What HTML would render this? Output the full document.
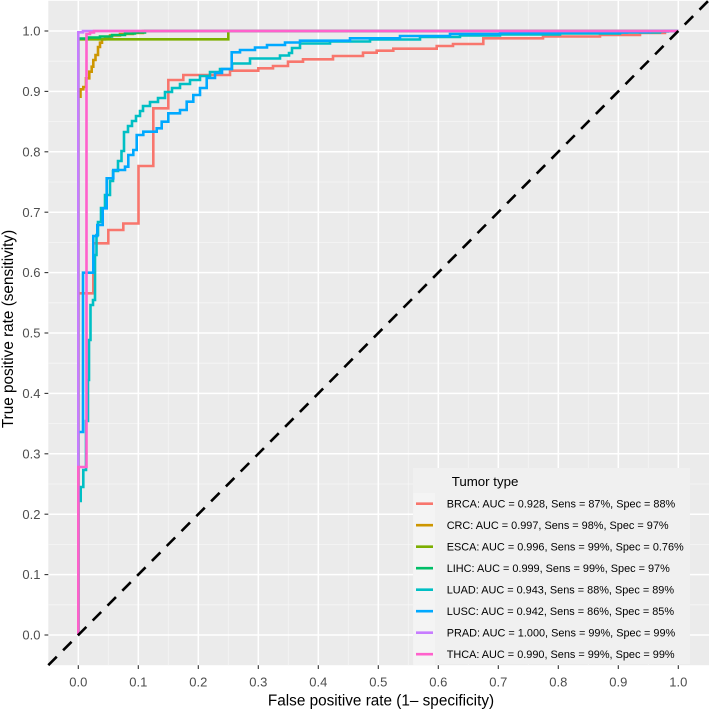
<!DOCTYPE html>
<html>
<head>
<meta charset="utf-8">
<style>
html,body{margin:0;padding:0;background:#fff;}
svg{display:block;}
text{font-family:"Liberation Sans",Arial,sans-serif;}
</style>
</head>
<body>
<svg width="709" height="710" viewBox="0 0 709 710" xmlns="http://www.w3.org/2000/svg">
<rect x="0" y="0" width="709" height="710" fill="#fff"/>
<!-- panel -->
<rect x="48.3" y="0.8" width="660.7" height="664.4" fill="#EBEBEB"/>
<!-- minor grid -->
<g stroke="#F6F6F6" stroke-width="0.8">
<line x1="108.3" y1="0.8" x2="108.3" y2="665.2"/>
<line x1="168.3" y1="0.8" x2="168.3" y2="665.2"/>
<line x1="228.3" y1="0.8" x2="228.3" y2="665.2"/>
<line x1="288.3" y1="0.8" x2="288.3" y2="665.2"/>
<line x1="348.3" y1="0.8" x2="348.3" y2="665.2"/>
<line x1="408.3" y1="0.8" x2="408.3" y2="665.2"/>
<line x1="468.3" y1="0.8" x2="468.3" y2="665.2"/>
<line x1="528.3" y1="0.8" x2="528.3" y2="665.2"/>
<line x1="588.3" y1="0.8" x2="588.3" y2="665.2"/>
<line x1="648.3" y1="0.8" x2="648.3" y2="665.2"/>
<line x1="48.3" y1="604.8" x2="709" y2="604.8"/>
<line x1="48.3" y1="544.4" x2="709" y2="544.4"/>
<line x1="48.3" y1="484.0" x2="709" y2="484.0"/>
<line x1="48.3" y1="423.6" x2="709" y2="423.6"/>
<line x1="48.3" y1="363.2" x2="709" y2="363.2"/>
<line x1="48.3" y1="302.8" x2="709" y2="302.8"/>
<line x1="48.3" y1="242.4" x2="709" y2="242.4"/>
<line x1="48.3" y1="182.0" x2="709" y2="182.0"/>
<line x1="48.3" y1="121.6" x2="709" y2="121.6"/>
<line x1="48.3" y1="61.2" x2="709" y2="61.2"/>
</g>
<!-- major grid -->
<g stroke="#FFFFFF" stroke-width="1.5">
<line x1="78.3" y1="0.8" x2="78.3" y2="665.2"/>
<line x1="138.3" y1="0.8" x2="138.3" y2="665.2"/>
<line x1="198.3" y1="0.8" x2="198.3" y2="665.2"/>
<line x1="258.3" y1="0.8" x2="258.3" y2="665.2"/>
<line x1="318.3" y1="0.8" x2="318.3" y2="665.2"/>
<line x1="378.3" y1="0.8" x2="378.3" y2="665.2"/>
<line x1="438.3" y1="0.8" x2="438.3" y2="665.2"/>
<line x1="498.3" y1="0.8" x2="498.3" y2="665.2"/>
<line x1="558.3" y1="0.8" x2="558.3" y2="665.2"/>
<line x1="618.3" y1="0.8" x2="618.3" y2="665.2"/>
<line x1="678.3" y1="0.8" x2="678.3" y2="665.2"/>
<line x1="48.3" y1="635" x2="709" y2="635"/>
<line x1="48.3" y1="574.6" x2="709" y2="574.6"/>
<line x1="48.3" y1="514.2" x2="709" y2="514.2"/>
<line x1="48.3" y1="453.8" x2="709" y2="453.8"/>
<line x1="48.3" y1="393.4" x2="709" y2="393.4"/>
<line x1="48.3" y1="333.0" x2="709" y2="333.0"/>
<line x1="48.3" y1="272.6" x2="709" y2="272.6"/>
<line x1="48.3" y1="212.2" x2="709" y2="212.2"/>
<line x1="48.3" y1="151.8" x2="709" y2="151.8"/>
<line x1="48.3" y1="91.4" x2="709" y2="91.4"/>
<line x1="48.3" y1="31.0" x2="709" y2="31.0"/>
</g>

<!-- curves -->
<g fill="none" stroke-width="2.6" stroke-linejoin="miter">
<!-- BRCA -->
<path stroke="#F8766D" d="M78.3 635 V293.3 H93.3 V243.3 H108.3 V230 H123.3 V223.5 H138.5 V166 H153.3 V108.3 H168.3 V80 H183.3 V75 H230 V70.7 H258.3 V68.3 H273 V66 H288 V61.7 H303 V59.3 H333 V56 H363 V52.7 H376.7 V50.7 H393.3 V48.7 H436.7 V46 H453 V44 H483.3 V38.3 H543 V36.5 H600 V35 H640 V33 H665 V31 H678.3"/>
<!-- CRC -->
<path stroke="#CD9600" d="M78.3 635 V96.7 H80.5 V89.3 H83.3 V87 H86 V78.3 H89.3 V71.7 H91.7 V66.7 H93.3 V60 H95.5 V55 H98 V47 H100 V42.7 H102 V39.3 H105 V37 H110 V35.5 H120 V34 H133 V33 H143 V31 H678.3"/>
<!-- ESCA -->
<path stroke="#7CAE00" d="M78.3 635 V39.3 H228.3 V31 H678.3"/>
<!-- LIHC -->
<path stroke="#00BE67" d="M78.3 635 V38.5 H88 V37.5 H100 V36.5 H112 V35 H125 V33.5 H135 V32.5 H145 V31 H678.3"/>
<!-- LUAD -->
<path stroke="#00BFC4" d="M78.3 635 V501 H80.7 V487 H83.3 V470 H86 V421 H88 V380 H89 V340 H90.5 V305 H93 V300 H95 V255 H96.5 V235 H98 V222 H101 V208 H105 V195 H110 V181 H113 V171 H118 V161 H121.5 V151 H124 V132 H128 V126 H132 V121 H136 V116 H140 V111 H143 V106 H150 V102 H158 V98 H165 V92 H172 V88 H180 V84 H190 V80 H200 V76 H210 V72 H220 V69 H232 V63.5 H250 V58.5 H280 V55.5 H289 V53 H292 V48 H300 V43.5 H330 V41.5 H370 V39.5 H420 V37 H460 V35.5 H500 V34.5 H560 V33.5 H620 V32.5 H660 V31.5 H668 V31 H678.3"/>
<!-- LUSC -->
<path stroke="#00A9FF" d="M78.3 635 V432 H83 V272.7 H93.3 V236 H97.3 V225 H102.7 V208.3 H106.7 V178.3 H113.3 V170 H125 V166.7 H128.3 V155 H133.3 V150 H136.7 V135 H143.3 V131.7 H156.7 V128.3 H161.7 V121.7 H168.3 V113.3 H180 V110 H186.7 V101.7 H193.3 V95 H200 V88 H206.7 V78 H215 V73 H222 V69 H231.7 V52.3 H240 V50 H255 V47.5 H267 V45 H285 V42.5 H300 V40.7 H350 V38.3 H400 V36 H450 V34 H500 V33 H560 V32.5 H627 V32 H650 V31 H678.3"/>
<!-- PRAD -->
<path stroke="#C77CFF" d="M78.3 635 V32.3 H83 V31 H678.3"/>
<!-- THCA -->
<path stroke="#FF61CC" d="M78.3 635 V467 H86.5 V34 H90 V32.5 H94 V31 H678.3"/>
</g>

<!-- diagonal -->
<line x1="48.3" y1="665.2" x2="708.3" y2="0.8" stroke="#000" stroke-width="2.6" stroke-dasharray="12 9"/>

<!-- legend -->
<rect x="413" y="468" width="277" height="196" fill="#F0F0F0"/>
<g fill="#F4F4F4">
<rect x="413.3" y="493" width="21.7" height="21.5"/>
<rect x="413.3" y="514.5" width="21.7" height="21.5"/>
<rect x="413.3" y="536" width="21.7" height="21.5"/>
<rect x="413.3" y="557.5" width="21.7" height="21.5"/>
<rect x="413.3" y="579" width="21.7" height="21.5"/>
<rect x="413.3" y="600.5" width="21.7" height="21.5"/>
<rect x="413.3" y="622" width="21.7" height="21.5"/>
<rect x="413.3" y="643.5" width="21.7" height="21.5"/>
</g>
<text x="451.7" y="485.8" font-size="13.3" fill="#000">Tumor type</text>
<g stroke-width="2.6">
<line x1="416" y1="503.7" x2="433" y2="503.7" stroke="#F8766D"/>
<line x1="416" y1="525.2" x2="433" y2="525.2" stroke="#CD9600"/>
<line x1="416" y1="546.7" x2="433" y2="546.7" stroke="#7CAE00"/>
<line x1="416" y1="568.2" x2="433" y2="568.2" stroke="#00BE67"/>
<line x1="416" y1="589.7" x2="433" y2="589.7" stroke="#00BFC4"/>
<line x1="416" y1="611.2" x2="433" y2="611.2" stroke="#00A9FF"/>
<line x1="416" y1="632.7" x2="433" y2="632.7" stroke="#C77CFF"/>
<line x1="416" y1="654.2" x2="433" y2="654.2" stroke="#FF61CC"/>
</g>
<g font-size="10.9" fill="#000">
<text x="446.7" y="507.6">BRCA: AUC = 0.928, Sens = 87%, Spec = 88%</text>
<text x="446.7" y="529.1">CRC: AUC = 0.997, Sens = 98%, Spec = 97%</text>
<text x="446.7" y="550.6">ESCA: AUC = 0.996, Sens = 99%, Spec = 0.76%</text>
<text x="446.7" y="572.1">LIHC: AUC = 0.999, Sens = 99%, Spec = 97%</text>
<text x="446.7" y="593.6">LUAD: AUC = 0.943, Sens = 88%, Spec = 89%</text>
<text x="446.7" y="615.1">LUSC: AUC = 0.942, Sens = 86%, Spec = 85%</text>
<text x="446.7" y="636.6">PRAD: AUC = 1.000, Sens = 99%, Spec = 99%</text>
<text x="446.7" y="658.1">THCA: AUC = 0.990, Sens = 99%, Spec = 99%</text>
</g>

<!-- axis ticks -->
<g stroke="#333" stroke-width="1.1">
<line x1="44.5" y1="635" x2="48.3" y2="635"/>
<line x1="44.5" y1="574.6" x2="48.3" y2="574.6"/>
<line x1="44.5" y1="514.2" x2="48.3" y2="514.2"/>
<line x1="44.5" y1="453.8" x2="48.3" y2="453.8"/>
<line x1="44.5" y1="393.4" x2="48.3" y2="393.4"/>
<line x1="44.5" y1="333.0" x2="48.3" y2="333.0"/>
<line x1="44.5" y1="272.6" x2="48.3" y2="272.6"/>
<line x1="44.5" y1="212.2" x2="48.3" y2="212.2"/>
<line x1="44.5" y1="151.8" x2="48.3" y2="151.8"/>
<line x1="44.5" y1="91.4" x2="48.3" y2="91.4"/>
<line x1="44.5" y1="31.0" x2="48.3" y2="31.0"/>
<line x1="78.3" y1="665.2" x2="78.3" y2="669"/>
<line x1="138.3" y1="665.2" x2="138.3" y2="669"/>
<line x1="198.3" y1="665.2" x2="198.3" y2="669"/>
<line x1="258.3" y1="665.2" x2="258.3" y2="669"/>
<line x1="318.3" y1="665.2" x2="318.3" y2="669"/>
<line x1="378.3" y1="665.2" x2="378.3" y2="669"/>
<line x1="438.3" y1="665.2" x2="438.3" y2="669"/>
<line x1="498.3" y1="665.2" x2="498.3" y2="669"/>
<line x1="558.3" y1="665.2" x2="558.3" y2="669"/>
<line x1="618.3" y1="665.2" x2="618.3" y2="669"/>
<line x1="678.3" y1="665.2" x2="678.3" y2="669"/>
</g>

<!-- y tick labels -->
<g font-size="13" fill="#4D4D4D" text-anchor="end">
<text x="40.5" y="639.6">0.0</text>
<text x="40.5" y="579.2">0.1</text>
<text x="40.5" y="518.8">0.2</text>
<text x="40.5" y="458.4">0.3</text>
<text x="40.5" y="398.0">0.4</text>
<text x="40.5" y="337.6">0.5</text>
<text x="40.5" y="277.2">0.6</text>
<text x="40.5" y="216.8">0.7</text>
<text x="40.5" y="156.4">0.8</text>
<text x="40.5" y="96.0">0.9</text>
<text x="40.5" y="35.6">1.0</text>
</g>
<!-- x tick labels -->
<g font-size="13" fill="#4D4D4D" text-anchor="middle">
<text x="78.3" y="686.5">0.0</text>
<text x="138.3" y="686.5">0.1</text>
<text x="198.3" y="686.5">0.2</text>
<text x="258.3" y="686.5">0.3</text>
<text x="318.3" y="686.5">0.4</text>
<text x="378.3" y="686.5">0.5</text>
<text x="438.3" y="686.5">0.6</text>
<text x="498.3" y="686.5">0.7</text>
<text x="558.3" y="686.5">0.8</text>
<text x="618.3" y="686.5">0.9</text>
<text x="678.3" y="686.5">1.0</text>
</g>

<!-- axis titles -->
<text x="381" y="705.5" font-size="15.3" fill="#000" text-anchor="middle">False positive rate (1– specificity)</text>
<text transform="translate(13.2,329) rotate(-90)" x="0" y="0" font-size="15.3" fill="#000" text-anchor="middle">True positive rate (sensitivity)</text>
</svg>
</body>
</html>
